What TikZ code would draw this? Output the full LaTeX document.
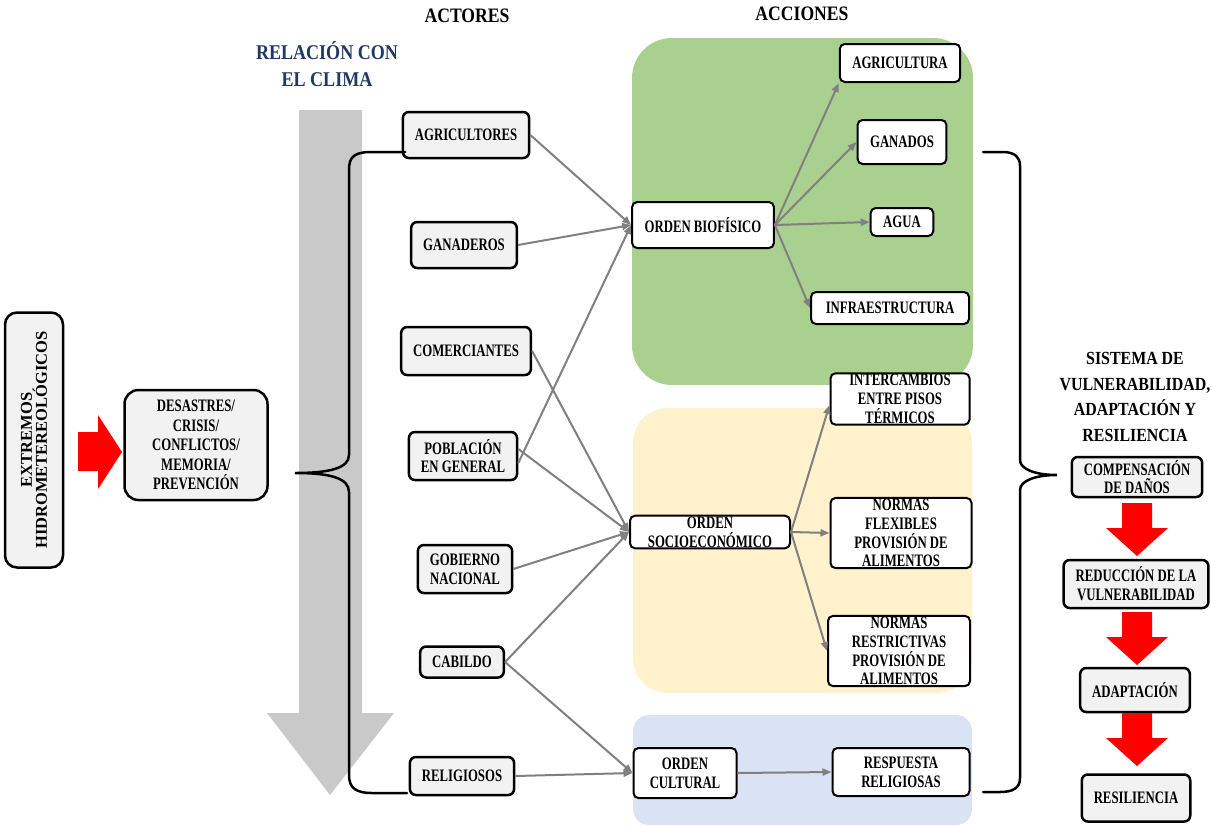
\documentclass[tikz,border=0pt]{standalone}
\usepackage{fontspec}
\setmainfont{Liberation Serif}[FakeStretch=0.73]
\newfontfamily\titulofont{Liberation Serif}[FakeStretch=0.86]
\newfontfamily\rectofont{Liberation Serif}
\usetikzlibrary{arrows.meta}
\definecolor{cgris}{HTML}{F2F2F2}
\definecolor{cflecha}{HTML}{C9C9C9}
\definecolor{cconector}{HTML}{808080}
\definecolor{cverde}{HTML}{A9D08E}
\definecolor{ccrema}{HTML}{FFF2CC}
\definecolor{cazul}{HTML}{DAE3F3}
\definecolor{cnavy}{HTML}{1F3864}
\definecolor{crojo}{HTML}{FF0000}

\begin{document}
\begin{tikzpicture}[x=1pt,y=-1pt,
  actor/.style={draw,line width=2.5pt,rounded corners=6pt,fill=cgris,align=center,
    inner xsep=12pt,inner ysep=2pt,font=\bfseries\fontsize{17.5}{18.8}\selectfont},
  accion/.style={draw,line width=2pt,rounded corners=5pt,fill=white,align=center,
    inner xsep=12.5pt,inner ysep=1pt,font=\bfseries\fontsize{17.5}{18.8}\selectfont},
  titulo/.style={align=center,font=\titulofont\bfseries\fontsize{20.5}{27}\selectfont},
  conector/.style={cconector,line width=2pt,-{Triangle[length=9pt,width=7pt]}},
  llave/.style={line width=2.5pt,line cap=round}]
  \useasboundingbox (0,0) rectangle (1212,825);

  % fondos de las acciones
  \fill[cverde,rounded corners=40pt] (632,38) rectangle (973,385);
  \fill[ccrema,rounded corners=35pt] (633,408) rectangle (972,693);
  \fill[cazul,rounded corners=16pt] (633,715) rectangle (972,825);

  % relacion con el clima
  \fill[cflecha] (299,110) -- (362,110) -- (362,713) -- (394,713) -- (330,795)
    -- (267,713) -- (299,713) -- cycle;

  % titulos
  \node[titulo,text=cnavy,font=\titulofont\bfseries\fontsize{21}{27}\selectfont]
    (clima) at (327,64) {RELACIÓN CON\\EL CLIMA};
  \node[titulo] (tactores) at (467,16) {ACTORES};
  \node[titulo] (tacciones) at (802,14) {ACCIONES};
  \node[titulo,font=\titulofont\bfseries\fontsize{18.5}{25.5}\selectfont]
    (tsistema) at (1135,397) {SISTEMA DE\\VULNERABILIDAD,\\ADAPTACIÓN Y\\RESILIENCIA};

  % origen
  \node[actor,rotate=90,rounded corners=12pt,minimum width=255pt,minimum height=58pt,
    font=\rectofont\bfseries\fontsize{16.5}{15}\selectfont] (ext) at (34,440)
    {EXTREMOS\\HIDROMETEREOLÓGICOS};
  \node[actor,rounded corners=14pt,minimum width=143pt,minimum height=110pt,
    font=\bfseries\fontsize{17.5}{19.6}\selectfont] (desastres) at (196,445)
    {DESASTRES/\\CRISIS/\\CONFLICTOS/\\MEMORIA/\\PREVENCIÓN};
  \fill[crojo] (78,432) -- (98,432) -- (98,415) -- (122,452) -- (98,489)
    -- (98,471) -- (78,471) -- cycle;

  % actores
  \node[actor,minimum height=46pt] (agr) at (466,135) {AGRICULTORES};
  \node[actor,minimum height=46pt] (gan) at (464,245) {GANADEROS};
  \node[actor,minimum height=48pt] (com) at (466,351) {COMERCIANTES};
  \node[actor,minimum height=48pt] (pob) at (463,456) {POBLACIÓN\\EN GENERAL};
  \node[actor,minimum height=48pt] (gob) at (465,569) {GOBIERNO\\NACIONAL};
  \node[actor,minimum height=31pt] (cab) at (462,662) {CABILDO};
  \node[actor,minimum height=38pt] (rel) at (462,776) {RELIGIOSOS};

  % acciones
  \node[accion,minimum height=46pt] (bio) at (703,225) {ORDEN BIOFÍSICO};
  \node[accion,minimum height=38pt] (agri) at (900,63) {AGRICULTURA};
  \node[accion,minimum height=44pt] (gdos) at (902,142) {GANADOS};
  \node[accion,minimum height=28pt] (agua) at (902,222) {AGUA};
  \node[accion,minimum height=32pt,minimum width=158pt] (infra) at (890,308) {INFRAESTRUCTURA};
  \node[accion,minimum width=160pt] (socio) at (710,532) {ORDEN\\SOCIOECONÓMICO};
  \node[accion,minimum width=139pt] (inter) at (900,399)
    {INTERCAMBIOS\\ENTRE PISOS\\TÉRMICOS};
  \node[accion,minimum width=141pt] (flex) at (901,533)
    {NORMAS\\FLEXIBLES\\PROVISIÓN DE\\ALIMENTOS};
  \node[accion,minimum width=142pt] (restr) at (899,651)
    {NORMAS\\RESTRICTIVAS\\PROVISIÓN DE\\ALIMENTOS};
  \node[accion,minimum width=103pt,minimum height=50pt] (cult) at (685,773)
    {ORDEN\\CULTURAL};
  \node[accion,minimum width=137pt,minimum height=48pt] (resp) at (901,772)
    {RESPUESTA\\RELIGIOSAS};

  % sistema
  \node[actor,minimum height=40pt] (comp) at (1137,477) {COMPENSACIÓN\\DE DAÑOS};
  \node[actor,minimum height=48pt] (red) at (1136,584) {REDUCCIÓN DE LA\\VULNERABILIDAD};
  \node[actor,minimum height=44pt] (adap) at (1135,690) {ADAPTACIÓN};
  \node[actor,minimum height=47pt] (resil) at (1136,798) {RESILIENCIA};
  \foreach \t in {503,612,713}
    \fill[crojo] (1122,\t) -- (1152,\t) -- (1152,\t+25) -- (1168,\t+25)
      -- (1137,\t+53) -- (1106,\t+25) -- (1122,\t+25) -- cycle;

  % conectores
  \draw[conector] (agr.east) -- (bio.west);
  \draw[conector] (gan.east) -- (bio.west);
  \draw[conector] ([yshift=-7pt]pob.east) -- (bio.west);
  \draw[conector] (com.east) -- (socio.west);
  \draw[conector] ([yshift=7pt]pob.east) -- (socio.west);
  \draw[conector] (gob.east) -- (socio.west);
  \draw[conector] (cab.east) -- (socio.west);
  \draw[conector] (cab.east) -- (cult.west);
  \draw[conector] (rel.east) -- (cult.west);
  \draw[conector] (bio.east) -- (agri.south west);
  \draw[conector] (bio.east) -- (gdos.west);
  \draw[conector] (bio.east) -- (agua.west);
  \draw[conector] (bio.east) -- (infra.west);
  \draw[conector] (socio.east) -- ([yshift=-6pt]inter.west);
  \draw[conector] (socio.east) -- (flex.west);
  \draw[conector] (socio.east) -- (restr.west);
  \draw[conector] (cult.east) -- (resp.west);

  % llaves
  \coordinate (lla) at (405,152);
  \coordinate (llb) at (407,793);
  \draw[llave] (lla) -- (368,152) .. controls (353,153) and (349,158) .. (349,170)
    -- (349,455) .. controls (349,468) and (330,473) .. (295,473)
    .. controls (330,473) and (349,478) .. (349,492)
    -- (349,775) .. controls (349,788) and (356,793) .. (372,793) -- (llb);
  \coordinate (llc) at (983,152);
  \coordinate (lld) at (983,792);
  \draw[llave] (llc) -- (1005,152) .. controls (1015,153) and (1020,157) .. (1020,166)
    -- (1020,460) .. controls (1020,469) and (1035,475) .. (1057,475)
    .. controls (1035,475) and (1020,481) .. (1020,490)
    -- (1020,778) .. controls (1020,788) and (1013,792) .. (1000,792) -- (lld);
\end{tikzpicture}
\end{document}
